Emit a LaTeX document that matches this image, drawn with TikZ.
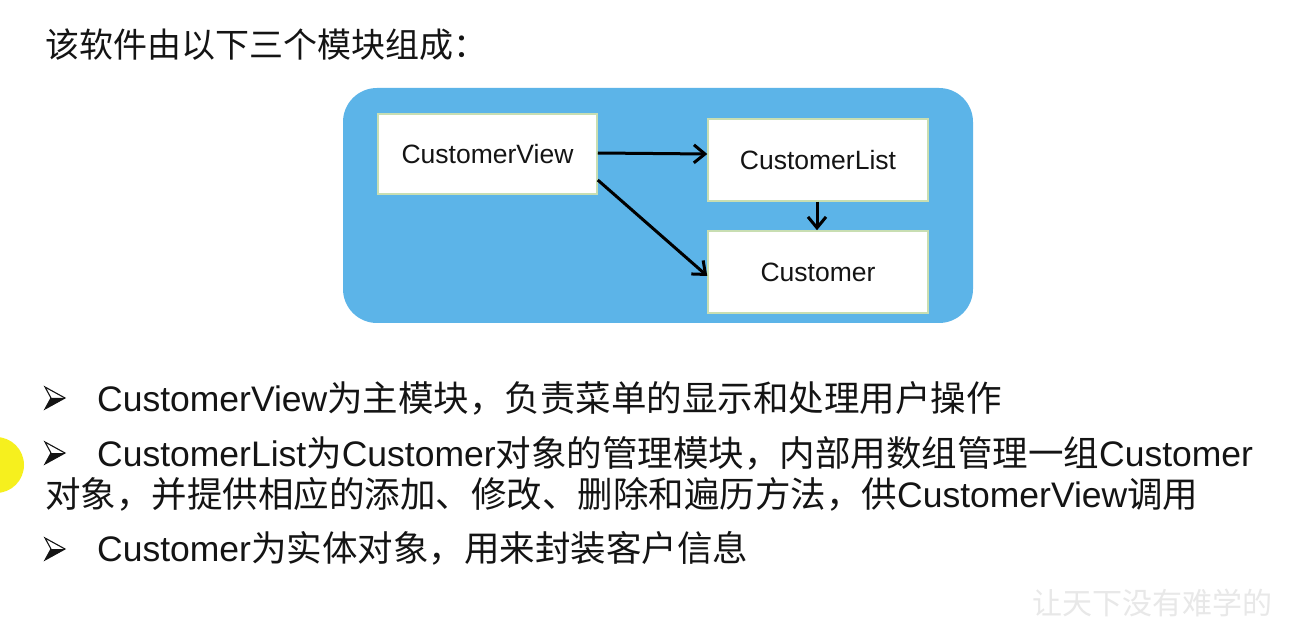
\documentclass[tikz,border=0pt]{standalone}
\usepackage{fontspec}
\setmainfont{Liberation Sans}
\newfontfamily\cjk{Noto Sans CJK SC}
\usetikzlibrary{arrows.meta}
\definecolor{panelblue}{RGB}{92,180,232}
\definecolor{boxedge}{RGB}{200,222,178}
\definecolor{txt}{RGB}{20,20,20}
\definecolor{cursoryellow}{RGB}{246,240,30}
\tikzset{
  panel/.style={fill=panelblue, rounded corners=34pt, minimum width=630pt, minimum height=235pt, inner sep=0pt},
  modbox/.style={draw=boxedge, line width=1.5pt, fill=white, minimum width=220pt, minimum height=82pt, inner sep=0pt, text=txt, font=\fontsize{26.5}{30}\selectfont},
  link/.style={line width=3pt, -{Straight Barb[length=11pt,width=18pt,line width=3pt]}},
  line/.style={anchor=base west, inner sep=0pt, text=txt, font=\fontsize{35.5}{41}\selectfont},
  bulout/.style={draw=txt, fill=white, line width=1.1pt, line join=miter},
  bulin/.style={fill=txt},
}
\newcommand\arrowbullet[1]{%
  \begin{scope}[shift={#1}]
    \draw[bulout] (1,-11) -- (21,0) -- (1,11) -- (7,0) -- cycle;
    \fill[bulin] (7,0) -- (21,0) -- (1,11) -- cycle;
  \end{scope}}
\begin{document}
\begin{tikzpicture}[x=1pt,y=-1pt]
\useasboundingbox (0,0) rectangle (1302,620);
\clip (0,0) rectangle (1302,620);
\fill[white] (0,0) rectangle (1302,620);

% title
\node[anchor=base west, inner sep=0pt, text=txt, font=\fontsize{34}{40}\selectfont\cjk] (title) at (45,58) {该软件由以下三个模块组成：};

% diagram
\node[panel] (panel) at (658,205.5) {};
\node[modbox, minimum width=219pt, minimum height=80pt] (cv) at (487.5,154) {CustomerView};
\node[modbox] (cl) at (818,160) {CustomerList};
\node[modbox] (cu) at (818,272) {Customer};

\draw[link] ([yshift=1pt]cv.east) -- (cv.east -| cl.west);
\draw[link] ([yshift=-26pt]cv.east) -- ([yshift=-4pt]cu.west);
\draw[link] ([xshift=-1pt]cl.south) -- ([xshift=-1pt]cu.north);

% bullets
\arrowbullet{(44,398)}
\node[line] (l1) at (97,411.5) {CustomerView{\cjk 为主模块，负责菜单的显示和处理用户操作}};
\arrowbullet{(44,453)}
\node[line] (l2) at (97,466.5) {CustomerList{\cjk 为}Customer{\cjk 对象的管理模块，内部用数组管理一组}Customer};
\node[line] (l3) at (45,507.5) {{\cjk 对象，并提供相应的添加、修改、删除和遍历方法，供}CustomerView{\cjk 调用}};
\arrowbullet{(44,549)}
\node[line] (l4) at (97,561.5) {Customer{\cjk 为实体对象，用来封装客户信息}};

% cursor highlight
\fill[cursoryellow] (-4,465) circle (28);

% watermark
\node[anchor=base west, inner sep=0pt, text=black!9, font=\fontsize{30}{30}\selectfont\cjk] (wm) at (1032,614) {让天下没有难学的};
\end{tikzpicture}
\end{document}
